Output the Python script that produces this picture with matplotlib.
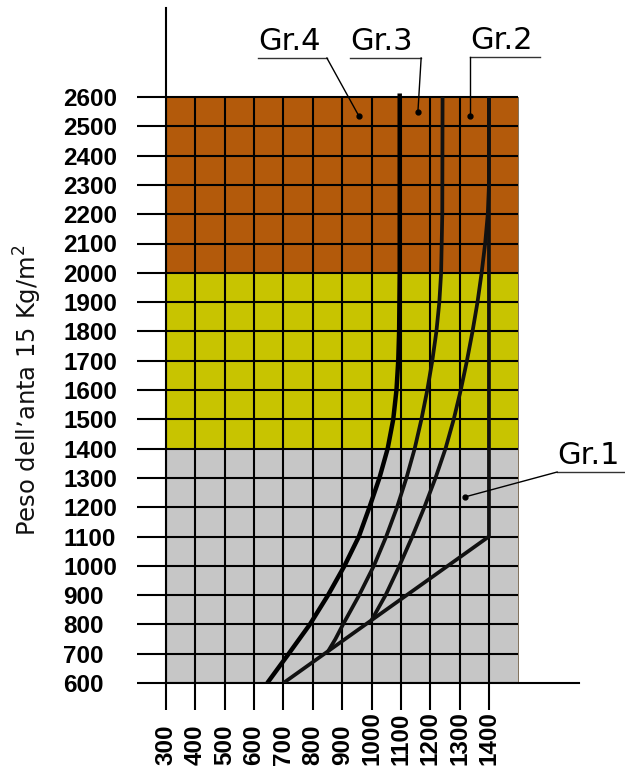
import matplotlib
matplotlib.use("Agg")
import matplotlib.pyplot as plt
import numpy as np

# pesi (asse y) e larghezze (asse x)
y_ticks = list(range(600, 2700, 100))
x_ticks = list(range(300, 1500, 100))

# fasce colorate: (da, a, colore)
bands_lo = [600, 1400, 2000]
bands_hi = [1400, 2000, 2600]
bands_col = ["#c6c6c6", "#c8c400", "#b35a0b"]

# curve (x, y)
gr4_x = [645, 718, 790, 852, 908, 957, 993, 1027, 1055, 1074, 1085, 1091, 1094, 1096, 1096]
gr4_y = [600, 700, 800, 900, 1000, 1100, 1200, 1300, 1400, 1500, 1600, 1700, 1800, 2000, 2612]

gr3_x = [852, 877, 903, 958, 1008, 1050, 1087, 1119, 1147, 1170, 1190, 1207, 1221, 1231, 1237, 1241, 1242]
gr3_y = [708, 750, 800, 900, 1000, 1100, 1200, 1300, 1400, 1500, 1600, 1700, 1800, 1900, 2000, 2200, 2600]

gr2_x = [1000, 1048, 1095, 1139, 1180, 1218, 1252, 1280, 1304, 1325, 1344, 1361, 1375, 1387, 1396, 1400, 1400]
gr2_y = [814, 900, 1000, 1100, 1200, 1300, 1400, 1500, 1600, 1700, 1800, 1900, 2000, 2100, 2200, 2300, 2600]

gr1_x = [700, 1400, 1400]
gr1_y = [600, 1100, 2600]

# etichette dei gruppi: testo, inizio sottolineatura, fine, punto
lab_txt = ["Gr.4", "Gr.3", "Gr.2", "Gr.1"]
lab_x0 = [613, 927, 1335, 1632]
lab_x1 = [848, 1169, 1574, 1863]
lab_y = [2733, 2733, 2736, 1320]
lead_x = [848, 1169, 1335, 1632]
dot_x = [957, 1158, 1335, 1318]
dot_y = [2535, 2549, 2535, 1235]

fig = plt.figure(figsize=(6.25, 7.71), dpi=100)
ax = fig.add_axes([166 / 625, (771 - 683) / 771, 413 / 625, 675 / 771])
ax.set_xlim(300, 300 + 413 / 0.2936)
ax.set_ylim(600, 600 + 675 / 0.293)

for lo, hi, c in zip(bands_lo, bands_hi, bands_col):
    ax.fill_between([300, 1500], lo, hi, color=c, lw=0, zorder=1)
ax.plot([1500, 1500], [600, 2600], color="#6b5a40", lw=0.6, zorder=1.5)

ax.hlines(y_ticks, 300, 1500, color="black", lw=1.5, zorder=2)
ax.vlines(x_ticks, 600, 2600, color="black", lw=1.5, zorder=2)

for xs, ys in [(gr1_x, gr1_y), (gr2_x, gr2_y), (gr3_x, gr3_y)]:
    ax.plot(xs, ys, color="#111111", lw=2.7, solid_capstyle="butt",
            solid_joinstyle="round", zorder=3)
ax.plot(gr4_x, gr4_y, color="black", lw=3.2, solid_capstyle="butt",
        solid_joinstyle="round", zorder=3)

for t, x0, x1, yy, lx, dx, dy in zip(lab_txt, lab_x0, lab_x1, lab_y, lead_x, dot_x, dot_y):
    ax.plot([x0, x1], [yy, yy], color="#333333", lw=1.0, clip_on=False, zorder=4)
    ax.plot([lx, dx], [yy, dy], color="black", lw=1.0, clip_on=False, zorder=4)
    ax.plot(dx, dy, "o", color="black", ms=3.5, zorder=4)
    ax.text(x0 + 2, yy + 28, t, fontsize=22, color="black", ha="left", va="baseline",
            clip_on=False)

for s in ["top", "right"]:
    ax.spines[s].set_visible(False)
ax.spines["left"].set_linewidth(1.5)
ax.spines["bottom"].set_linewidth(1.5)

ax.set_yticks(y_ticks)
ax.set_yticklabels([str(v) for v in y_ticks], fontfamily="Liberation Sans",
                   fontweight="bold", fontsize=17.5, ha="left")
ax.tick_params(axis="y", length=20.9, width=1.5, pad=53)

ax.set_xticks(x_ticks)
ax.set_xticklabels([str(v) for v in x_ticks], fontfamily="Liberation Sans",
                   fontweight="bold", fontsize=17.5, rotation=90, va="bottom")
ax.tick_params(axis="x", length=19.4, width=1.5, pad=39.6)

fig.text(28 / 625, (771 - 390) / 771, "Peso dell\u2019anta 15 Kg/m$^2$", rotation=90,
         fontsize=17.5, ha="center", va="center", color="#111111")

fig.savefig("out.png", dpi=100, facecolor="white")
